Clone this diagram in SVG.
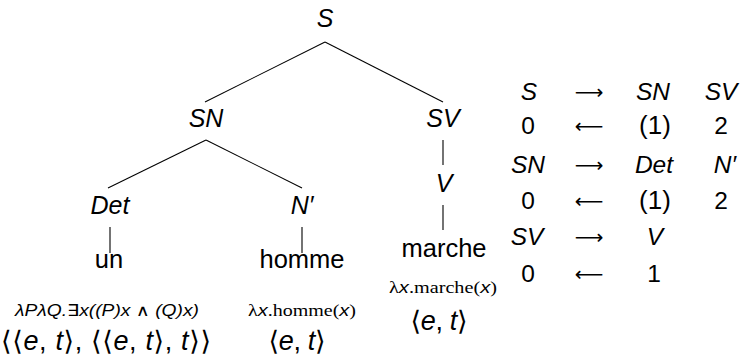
<svg xmlns="http://www.w3.org/2000/svg" width="744" height="358" viewBox="0 0 744 358">
  <style>
    text { font-family: "Liberation Sans", "DejaVu Sans", sans-serif; fill: #000; text-anchor: middle; }
    .cat { font-size: 25px; font-style: italic; }
    .word { font-size: 25.5px; }
    .sem { font-size: 16px; }
    .rm { font-family: "Liberation Serif", "DejaVu Serif", serif; font-style: normal; }
    .it { font-style: italic; }
    .type { font-size: 27px; }
    .ang { font-family: "DejaVu Sans", sans-serif; font-style: normal; }
    .tab { font-size: 24.5px; }
    .par { font-size: 26px; }
    .arr { font-family: "DejaVu Sans", sans-serif; font-size: 20px; }
    .edge { stroke: #000; stroke-width: 1.1; fill: none; }
  </style>

  <!-- tree branches -->
  <g id="connectors">
    <line class="edge" x1="325" y1="42" x2="205" y2="102"/>
    <line class="edge" x1="325" y1="42" x2="443" y2="102"/>
    <line class="edge" x1="206" y1="140" x2="108" y2="188"/>
    <line class="edge" x1="206" y1="140" x2="302" y2="188"/>
    <line class="edge" x1="443" y1="140" x2="443" y2="165"/>
    <line class="edge" x1="110" y1="227" x2="110" y2="253"/>
    <line class="edge" x1="302" y1="227" x2="302" y2="253"/>
    <line class="edge" x1="443" y1="205" x2="443" y2="230"/>
  </g>

  <g id="node-S"><text class="cat" x="325" y="27">S</text></g>
  <g id="node-SN"><text class="cat" x="206" y="127">SN</text></g>
  <g id="node-SV"><text class="cat" x="443" y="127">SV</text></g>
  <g id="node-Det"><text class="cat" x="110" y="214">Det</text></g>
  <g id="node-N"><text class="cat" x="302" y="214">N′</text></g>
  <g id="node-V"><text class="cat" x="444" y="192">V</text></g>

  <g id="leaf-un">
    <text class="word" x="109" y="268">un</text>
    <text class="sem it" x="107" y="316" textLength="184" lengthAdjust="spacingAndGlyphs">λPλQ.∃x((P)x <tspan font-style="normal">∧</tspan> (Q)x)</text>
    <text class="type" x="106" y="350" textLength="210" lengthAdjust="spacing"><tspan class="ang">⟨⟨</tspan><tspan class="it">e</tspan>, <tspan class="it">t</tspan><tspan class="ang">⟩</tspan>, <tspan class="ang">⟨⟨</tspan><tspan class="it">e</tspan>, <tspan class="it">t</tspan><tspan class="ang">⟩</tspan>, <tspan class="it">t</tspan><tspan class="ang">⟩⟩</tspan></text>
  </g>

  <g id="leaf-homme">
    <text class="word" x="302" y="268">homme</text>
    <text class="sem" x="302" y="316" textLength="108" lengthAdjust="spacingAndGlyphs"><tspan class="rm">λ</tspan><tspan class="it">x</tspan><tspan class="rm">.homme(</tspan><tspan class="it">x</tspan><tspan class="rm">)</tspan></text>
    <text class="type" x="297" y="350" textLength="57" lengthAdjust="spacing"><tspan class="ang">⟨</tspan><tspan class="it">e</tspan>, <tspan class="it">t</tspan><tspan class="ang">⟩</tspan></text>
  </g>

  <g id="leaf-marche">
    <text class="word" x="444" y="257">marche</text>
    <text class="sem" x="443" y="293" textLength="108" lengthAdjust="spacingAndGlyphs"><tspan class="rm">λ</tspan><tspan class="it">x</tspan><tspan class="rm">.marche(</tspan><tspan class="it">x</tspan><tspan class="rm">)</tspan></text>
    <text class="type" x="439" y="330" textLength="57" lengthAdjust="spacing"><tspan class="ang">⟨</tspan><tspan class="it">e</tspan>, <tspan class="it">t</tspan><tspan class="ang">⟩</tspan></text>
  </g>

  <!-- rule table -->
  <g id="rules">
    <text class="tab it" x="529" y="100">S</text>
    <text class="arr" x="589" y="99">⟶</text>
    <text class="tab it" x="653" y="100">SN</text>
    <text class="tab it" x="721" y="100">SV</text>

    <text class="tab" x="528" y="134">0</text>
    <text class="arr" x="589" y="133">⟵</text>
    <text class="tab par" x="655" y="134">(1)</text>
    <text class="tab" x="721" y="134">2</text>

    <text class="tab it" x="528" y="173">SN</text>
    <text class="arr" x="589" y="172">⟶</text>
    <text class="tab it" x="654" y="173">Det</text>
    <text class="tab it" x="725" y="173">N′</text>

    <text class="tab" x="528" y="209">0</text>
    <text class="arr" x="589" y="208">⟵</text>
    <text class="tab par" x="655" y="209">(1)</text>
    <text class="tab" x="721" y="209">2</text>

    <text class="tab it" x="527" y="245">SV</text>
    <text class="arr" x="589" y="244">⟶</text>
    <text class="tab it" x="655" y="245">V</text>

    <text class="tab" x="528" y="282">0</text>
    <text class="arr" x="589" y="281">⟵</text>
    <text class="tab" x="654" y="282">1</text>
  </g>
</svg>
